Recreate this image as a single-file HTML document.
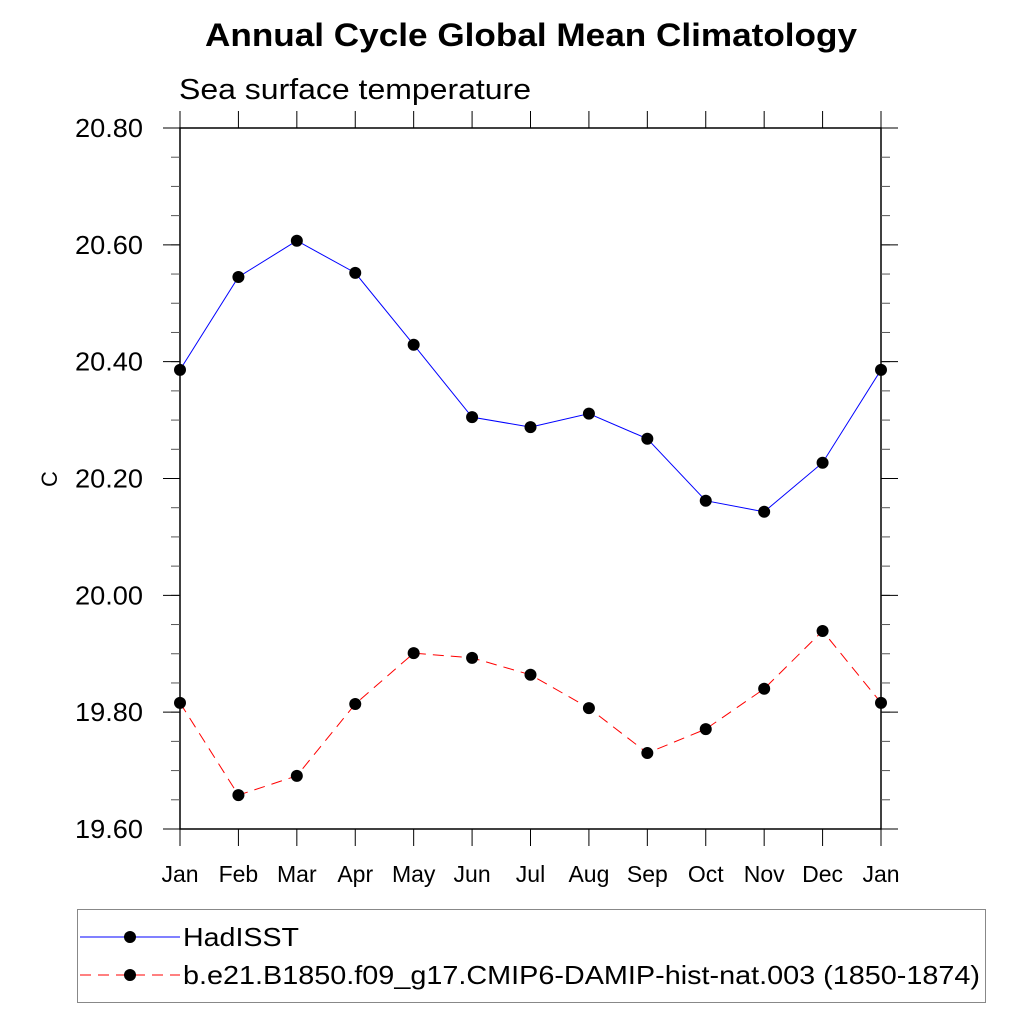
<!DOCTYPE html>
<html><head><meta charset="utf-8"><style>
body{margin:0;background:#fff;}
svg text{font-family:"Liberation Sans",sans-serif;}
</style></head><body>
<svg width="1024" height="1024" viewBox="0 0 1024 1024">
<text x="205" y="46" font-size="32" font-weight="bold" textLength="652" lengthAdjust="spacingAndGlyphs">Annual Cycle Global Mean Climatology</text>
<text x="179" y="99" font-size="29" textLength="352" lengthAdjust="spacingAndGlyphs">Sea surface temperature</text>
<text x="57" y="479" font-size="22" text-anchor="middle" transform="rotate(-90 57 479)">C</text>
<g id="axes"></g>
<g id="series"></g>
<rect x="77.5" y="909.5" width="908" height="93" fill="none" stroke="#888"/>
<g>
<line x1="80" y1="937" x2="180" y2="937" stroke="#00f" stroke-width="1"/>
<circle cx="130" cy="937" r="6" fill="#000"/>
<text x="183" y="946" font-size="26" textLength="116" lengthAdjust="spacingAndGlyphs">HadISST</text>
</g>
<g>
<line x1="80" y1="975" x2="180" y2="975" stroke="#f00" stroke-width="1" stroke-dasharray="11,7"/>
<circle cx="130" cy="975" r="6" fill="#000"/>
<text x="183" y="984" font-size="26" textLength="797" lengthAdjust="spacingAndGlyphs">b.e21.B1850.f09_g17.CMIP6-DAMIP-hist-nat.003 (1850-1874)</text>
</g>
</svg>
<script>
const months=["Jan","Feb","Mar","Apr","May","Jun","Jul","Aug","Sep","Oct","Nov","Dec","Jan"];
const yTicks=[19.6,19.8,20.0,20.2,20.4,20.6,20.8];
const hadisst=[20.386,20.545,20.607,20.552,20.429,20.305,20.288,20.311,20.268,20.162,20.143,20.227,20.386];
const model=[19.816,19.658,19.691,19.814,19.901,19.893,19.864,19.807,19.730,19.771,19.840,19.939,19.816];
const X0=180,X1=881,Y0=829,Y1=128,YMIN=19.6,YMAX=20.8;
const xs=i=>X0+(X1-X0)*i/(months.length-1);
const ys=v=>Y0-(v-YMIN)/(YMAX-YMIN)*(Y0-Y1);
const NS="http://www.w3.org/2000/svg";
function mk(t,a,p){const e=document.createElementNS(NS,t);for(const k in a)e.setAttribute(k,a[k]);p.appendChild(e);return e;}
const ax=document.getElementById('axes');
const fr=mk('rect',{x:X0,y:Y1,width:X1-X0,height:Y0-Y1,fill:'none',stroke:'#000','stroke-width':1.5},ax);


months.forEach((m,i)=>{
  const x=xs(i);
  mk('line',{x1:x,y1:Y1,x2:x,y2:Y1-17,stroke:'#000'},ax);
  mk('line',{x1:x,y1:Y0,x2:x,y2:Y0+17,stroke:'#000'},ax);
  const t=mk('text',{x:x,y:882,'text-anchor':'middle','font-size':23},ax);
  t.textContent=m;
  
  
});
for(let v=YMIN;v<=YMAX+1e-9;v+=0.05){
  const y=ys(v);
  mk('line',{x1:X0,y1:y,x2:X0-9,y2:y,stroke:'#555'},ax);
  mk('line',{x1:X1,y1:y,x2:X1+9,y2:y,stroke:'#555'},ax);
}
yTicks.forEach(v=>{
  const y=ys(v);
  mk('line',{x1:X0,y1:y,x2:X0-17,y2:y,stroke:'#000'},ax);
  mk('line',{x1:X1,y1:y,x2:X1+17,y2:y,stroke:'#000'},ax);
  const t=mk('text',{x:143,y:y+9,'text-anchor':'end','font-size':26,textLength:68,lengthAdjust:'spacingAndGlyphs'},ax);
  t.textContent=v.toFixed(2);
  
  
});
const sg=document.getElementById('series');
function series(vals,color,dash,name){
  const pl=mk('polyline',{points:vals.map((v,i)=>xs(i)+','+ys(v)).join(' '),fill:'none',stroke:color,'stroke-width':1,'stroke-dasharray':dash},sg);
  
  
  vals.forEach((v,i)=>{
    const c=mk('circle',{cx:xs(i),cy:ys(v),r:6,fill:'#000'},sg);
    
    
  });
}
series(hadisst,'#00f','none','hadisst');
series(model,'#f00','11,7','model');
</script>
</body></html>
